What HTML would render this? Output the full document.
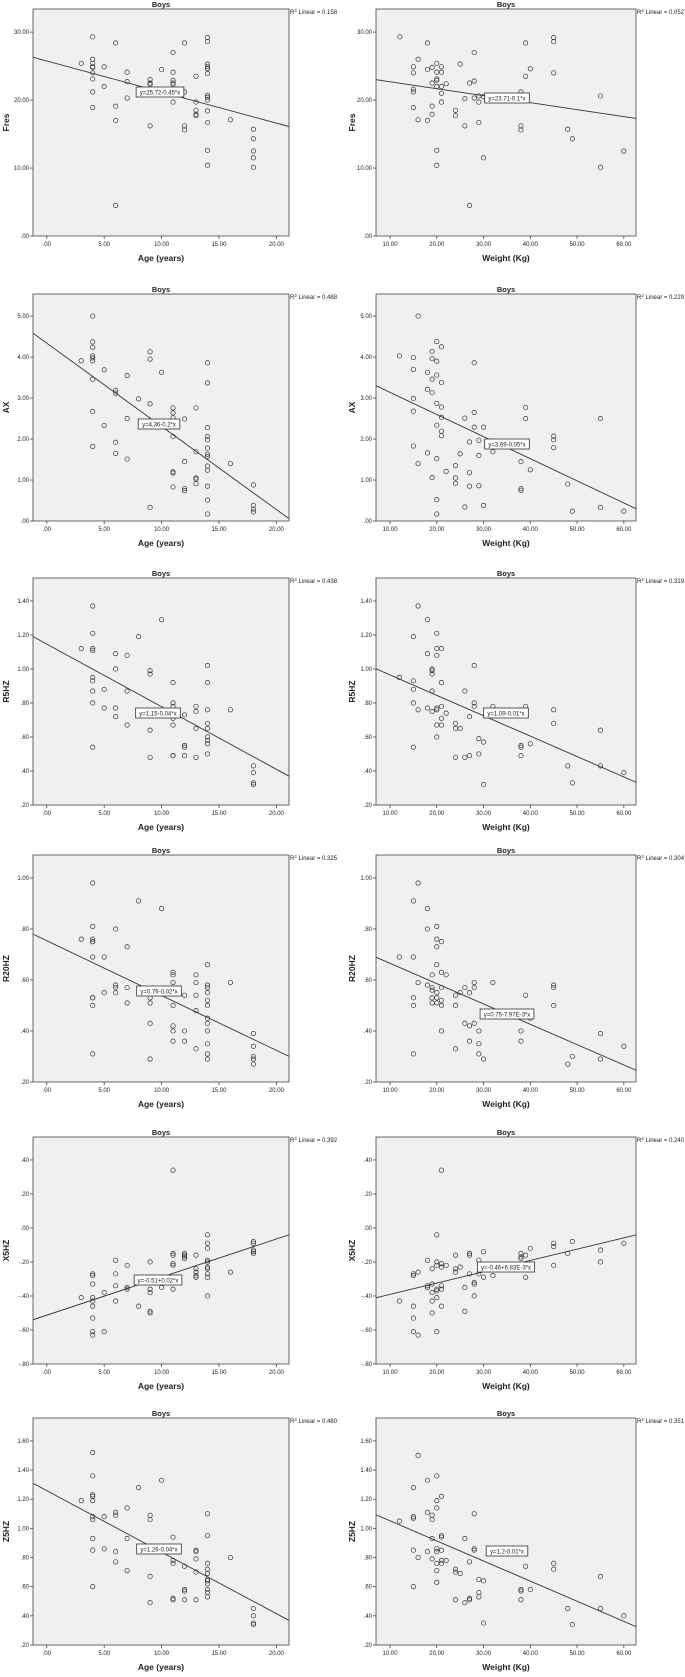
<!DOCTYPE html>
<html><head><meta charset="utf-8"><style>
html,body{margin:0;padding:0;background:#fff;}
svg text{font-family:"Liberation Sans",Arial,sans-serif;fill:#222;}
</style></head><body>
<svg id="fig" width="685" height="1672" viewBox="0 0 685 1672" xmlns="http://www.w3.org/2000/svg"></svg>
<script>
// ---- data ----
const fresAge=[[3,25.4],[4,29.3],[4,26.0],[4,25.4],[4,24.8],[4,24.9],[4,24.0],[4,23.1],[4,21.2],[4,18.9],[5,24.9],[5,22.0],[6,28.4],[6,19.1],[6,17.0],[6,4.5],[7,24.1],[7,22.7],[7,20.3],[8,21.6],[9,23.0],[9,22.5],[9,22.3],[9,16.2],[10,24.5],[11,27.0],[11,24.1],[11,22.9],[11,22.5],[11,22.3],[11,19.7],[12,28.4],[12,16.2],[12,15.6],[12,21.2],[13,23.5],[13,19.7],[13,18.5],[13,17.9],[13,17.7],[14,29.2],[14,28.6],[14,25.3],[14,24.9],[14,24.6],[14,23.9],[14,20.7],[14,20.4],[14,20.0],[14,18.4],[14,16.7],[14,12.6],[14,10.4],[16,17.1],[18,15.7],[18,14.3],[18,12.5],[18,11.5],[18,10.1]];
const fresWt=[[12.1,29.3],[15,24.9],[15,24.0],[15,21.6],[15,21.2],[15,18.9],[16,26.0],[16,17.1],[18,28.4],[18,24.5],[18,17.0],[19,24.8],[19,22.5],[19,19.1],[19,17.9],[20,25.4],[20,24.1],[20,23.1],[20,22.9],[20,22.0],[20,12.6],[20,10.4],[21,24.9],[21,24.1],[21,22.0],[21,21.0],[21,19.7],[22,22.4],[24,18.5],[24,17.7],[25,25.3],[26,20.2],[26,16.2],[27,22.5],[27,4.5],[28,27.0],[28,22.8],[28,20.3],[29,20.6],[29,19.7],[29,16.7],[30,11.5],[30,20.5],[38,21.2],[38,16.2],[38,15.6],[39,28.4],[39,23.5],[40,24.6],[45,29.2],[45,28.6],[45,24.0],[48,15.7],[49,14.3],[55,20.6],[55,10.1],[60,12.5]];
const axAge=[[3,3.91],[4,5.0],[4,4.37],[4,4.24],[4,4.03],[4,3.98],[4,3.91],[4,3.46],[4,2.67],[4,1.82],[5,3.69],[5,2.33],[6,3.19],[6,3.12],[6,1.92],[6,1.65],[7,3.55],[7,2.50],[7,1.51],[8,2.98],[9,4.13],[9,3.95],[9,2.86],[9,0.33],[10,3.63],[11,2.76],[11,2.64],[11,2.52],[11,2.33],[11,2.06],[11,1.20],[11,1.17],[11,0.83],[12,2.49],[12,1.45],[12,0.79],[12,0.74],[13,2.76],[13,1.69],[13,1.05],[13,1.02],[13,0.91],[14,3.86],[14,3.37],[14,2.28],[14,2.06],[14,1.98],[14,1.78],[14,1.63],[14,1.57],[14,1.34],[14,1.24],[14,0.85],[14,0.51],[14,0.17],[16,1.40],[18,0.88],[18,0.38],[18,0.29],[18,0.22]];
const axWt=[[12,4.03],[15,3.99],[15,3.70],[15,2.99],[15,2.68],[15,1.83],[16,5.0],[16,1.40],[18,3.63],[18,3.21],[18,1.66],[19,4.14],[19,3.96],[19,3.46],[19,3.13],[19,1.06],[20,4.38],[20,3.90],[20,3.56],[20,2.87],[20,2.34],[20,1.52],[20,0.52],[20,0.17],[21,4.25],[21,3.38],[21,2.78],[21,2.53],[21,2.19],[21,2.08],[22,1.21],[24,1.35],[24,1.05],[24,0.92],[25,1.64],[26,2.51],[26,0.34],[27,1.93],[27,1.18],[27,0.85],[28,3.86],[28,2.65],[28,2.29],[29,1.97],[29,1.60],[29,0.86],[30,2.29],[30,0.38],[32,1.69],[38,1.45],[38,0.79],[38,0.75],[39,2.77],[39,2.50],[40,1.25],[45,2.07],[45,1.98],[45,1.79],[48,0.90],[49,0.24],[55,2.50],[55,0.33],[60,0.24]];
const r5Age=[[3,1.12],[4,1.37],[4,1.21],[4,1.12],[4,1.11],[4,0.95],[4,0.93],[4,0.87],[4,0.80],[4,0.54],[5,0.88],[5,0.77],[6,1.09],[6,1.00],[6,0.77],[6,0.72],[7,1.08],[7,0.87],[7,0.67],[8,1.19],[9,0.99],[9,0.97],[9,0.64],[9,0.48],[10,1.29],[11,0.92],[11,0.80],[11,0.78],[11,0.71],[11,0.67],[11,0.49],[11,0.49],[12,0.73],[12,0.55],[12,0.54],[12,0.49],[13,0.78],[13,0.75],[13,0.65],[13,0.48],[14,1.02],[14,0.92],[14,0.76],[14,0.68],[14,0.65],[14,0.60],[14,0.58],[14,0.56],[14,0.50],[16,0.76],[18,0.43],[18,0.39],[18,0.33],[18,0.32]];
const r5Wt=[[12,0.95],[15,1.19],[15,0.93],[15,0.88],[15,0.80],[15,0.54],[16,1.37],[16,0.76],[18,1.29],[18,1.09],[18,0.77],[19,1.00],[19,0.99],[19,0.97],[19,0.87],[19,0.75],[20,1.21],[20,1.12],[20,1.08],[20,0.77],[20,0.76],[20,0.67],[20,0.60],[21,1.12],[21,0.92],[21,0.78],[21,0.71],[21,0.67],[22,0.74],[24,0.68],[24,0.65],[24,0.48],[25,0.65],[26,0.87],[26,0.48],[27,0.72],[27,0.49],[28,1.02],[28,0.80],[28,0.78],[29,0.59],[29,0.50],[30,0.57],[30,0.32],[32,0.78],[38,0.55],[38,0.54],[38,0.49],[39,0.78],[40,0.56],[45,0.76],[45,0.68],[48,0.43],[49,0.33],[55,0.64],[55,0.43],[60,0.39]];
const r20Age=[[3,0.76],[4,0.98],[4,0.81],[4,0.76],[4,0.75],[4,0.75],[4,0.69],[4,0.53],[4,0.53],[4,0.50],[4,0.31],[5,0.69],[5,0.55],[6,0.80],[6,0.58],[6,0.57],[6,0.55],[7,0.73],[7,0.57],[7,0.51],[8,0.91],[9,0.53],[9,0.51],[9,0.43],[9,0.29],[10,0.88],[11,0.63],[11,0.62],[11,0.59],[11,0.50],[11,0.42],[11,0.40],[11,0.36],[12,0.54],[12,0.40],[12,0.36],[13,0.62],[13,0.59],[13,0.54],[13,0.48],[13,0.33],[14,0.66],[14,0.58],[14,0.57],[14,0.55],[14,0.52],[14,0.50],[14,0.45],[14,0.43],[14,0.40],[14,0.35],[14,0.31],[14,0.29],[16,0.59],[18,0.39],[18,0.34],[18,0.30],[18,0.29],[18,0.27]];
const r20Wt=[[12,0.69],[15,0.91],[15,0.69],[15,0.53],[15,0.50],[15,0.31],[16,0.98],[16,0.59],[18,0.88],[18,0.80],[18,0.58],[19,0.62],[19,0.57],[19,0.56],[19,0.53],[19,0.51],[20,0.81],[20,0.76],[20,0.73],[20,0.66],[20,0.55],[20,0.53],[20,0.51],[21,0.75],[21,0.63],[21,0.57],[21,0.52],[21,0.50],[21,0.40],[22,0.62],[24,0.54],[24,0.50],[24,0.33],[25,0.55],[26,0.57],[26,0.43],[27,0.55],[27,0.42],[27,0.36],[28,0.59],[28,0.57],[28,0.43],[29,0.40],[29,0.35],[29,0.31],[30,0.29],[32,0.59],[38,0.40],[38,0.36],[39,0.54],[40,0.45],[45,0.58],[45,0.57],[45,0.50],[48,0.27],[49,0.30],[55,0.39],[55,0.29],[60,0.34]];
const x5Age=[[3,-0.41],[4,-0.27],[4,-0.28],[4,-0.33],[4,-0.41],[4,-0.43],[4,-0.46],[4,-0.53],[4,-0.61],[4,-0.63],[5,-0.38],[5,-0.61],[6,-0.19],[6,-0.27],[6,-0.34],[6,-0.43],[7,-0.22],[7,-0.35],[7,-0.36],[8,-0.46],[9,-0.20],[9,-0.36],[9,-0.38],[9,-0.49],[9,-0.50],[10,-0.35],[11,0.34],[11,-0.15],[11,-0.16],[11,-0.21],[11,-0.22],[11,-0.36],[12,-0.15],[12,-0.16],[12,-0.17],[12,-0.18],[13,-0.16],[13,-0.24],[13,-0.26],[13,-0.28],[13,-0.29],[14,-0.04],[14,-0.09],[14,-0.12],[14,-0.19],[14,-0.20],[14,-0.23],[14,-0.24],[14,-0.27],[14,-0.29],[14,-0.40],[16,-0.26],[18,-0.08],[18,-0.09],[18,-0.13],[18,-0.14],[18,-0.15]];
const x5Wt=[[12,-0.43],[15,-0.27],[15,-0.28],[15,-0.46],[15,-0.53],[15,-0.61],[16,-0.26],[16,-0.63],[18,-0.19],[18,-0.34],[18,-0.35],[19,-0.24],[19,-0.33],[19,-0.38],[19,-0.43],[19,-0.50],[20,-0.04],[20,-0.20],[20,-0.22],[20,-0.36],[20,-0.37],[20,-0.41],[20,-0.61],[21,0.34],[21,-0.21],[21,-0.23],[21,-0.34],[21,-0.36],[21,-0.46],[22,-0.22],[24,-0.16],[24,-0.24],[24,-0.26],[25,-0.23],[26,-0.35],[26,-0.49],[27,-0.15],[27,-0.16],[27,-0.27],[28,-0.32],[28,-0.33],[28,-0.40],[29,-0.19],[29,-0.27],[30,-0.14],[30,-0.29],[32,-0.28],[38,-0.15],[38,-0.17],[38,-0.18],[39,-0.16],[39,-0.29],[40,-0.12],[45,-0.09],[45,-0.11],[45,-0.22],[48,-0.15],[49,-0.08],[55,-0.13],[55,-0.20],[60,-0.09]];
const z5Age=[[3,1.19],[4,1.52],[4,1.36],[4,1.23],[4,1.22],[4,1.19],[4,1.08],[4,1.06],[4,0.93],[4,0.85],[4,0.60],[5,1.08],[5,0.86],[6,1.11],[6,1.09],[6,0.84],[6,0.77],[7,1.14],[7,0.93],[7,0.71],[8,1.28],[9,1.09],[9,1.06],[9,0.67],[9,0.49],[10,1.33],[11,0.94],[11,0.78],[11,0.76],[11,0.52],[11,0.51],[12,0.74],[12,0.58],[12,0.57],[12,0.51],[13,0.85],[13,0.84],[13,0.79],[13,0.70],[13,0.51],[14,1.10],[14,0.95],[14,0.76],[14,0.72],[14,0.69],[14,0.65],[14,0.64],[14,0.62],[14,0.58],[14,0.56],[14,0.53],[16,0.80],[18,0.45],[18,0.40],[18,0.35],[18,0.34]];
const z5Wt=[[12,1.05],[15,1.28],[15,1.08],[15,1.07],[15,0.85],[15,0.60],[16,1.50],[16,0.80],[18,1.33],[18,1.11],[18,0.84],[19,1.09],[19,1.06],[19,0.93],[19,0.79],[20,1.36],[20,1.19],[20,1.14],[20,0.86],[20,0.84],[20,0.76],[20,0.71],[20,0.63],[21,1.22],[21,0.95],[21,0.94],[21,0.85],[21,0.78],[21,0.76],[22,0.78],[24,0.72],[24,0.70],[24,0.51],[25,0.69],[26,0.93],[26,0.49],[27,0.77],[27,0.52],[27,0.51],[28,1.10],[28,0.86],[28,0.85],[29,0.65],[29,0.56],[29,0.53],[30,0.64],[30,0.35],[38,0.58],[38,0.57],[38,0.51],[39,0.74],[40,0.58],[45,0.76],[45,0.72],[48,0.45],[49,0.34],[55,0.67],[55,0.45],[60,0.40]];
const intercepts=[25.75,23.72,4.34,3.68,1.146,1.085,0.754,0.745,-0.513,-0.457,1.259,1.19];
const slopes=[-0.457,-0.1025,-0.203,-0.054,-0.0368,-0.012,-0.0215,-0.00797,0.0224,0.00665,-0.0422,-0.0138];
const eqLabels=["y=25.72-0.45*x","y=23.71-0.1*x","y=4.36-0.2*x","y=3.69-0.05*x","y=1.15-0.04*x","y=1.09-0.01*x","y=0.76-0.02*x","y=0.75-7.97E-3*x","y=-0.51+0.02*x","y=-0.46+6.83E-3*x","y=1.26-0.04*x","y=1.2-0.01*x"];
const r2Labels=["0.158","0.052","0.488","0.229","0.438","0.319","0.325","0.304","0.392","0.240","0.480","0.351"];
const yNames=["Fres","AX","R5HZ","R20HZ","X5HZ","Z5HZ"];
const yTicksRows=[[0,10,20,30],[0,1,2,3,4,5],[0.2,0.4,0.6,0.8,1.0,1.2,1.4],[0.2,0.4,0.6,0.8,1.0],[-0.8,-0.6,-0.4,-0.2,0,0.2,0.4],[0.2,0.4,0.6,0.8,1.0,1.2,1.4,1.6]];
const xTicksAge=[0,5,10,15,20];
const xTicksWt=[10,20,30,40,50,60];
const seriesList=[fresAge,fresWt,axAge,axWt,r5Age,r5Wt,r20Age,r20Wt,x5Age,x5Wt,z5Age,z5Wt];

// ---- layout (styles, not data) ----
const rowTops=[9,294,578,855,1137,1418];
const boxH=227;
const yDomains=[[0,33.4],[0,5.54],[0.2,1.535],[0.2,1.09],[-0.8,0.535],[0.2,1.757]];
const cols=[{l:33,r:289,dom:[-1.2,21.1],title:"Age (years)",ytx:6},{l:376,r:636,dom:[7.0,62.6],title:"Weight (Kg)",ytx:352}];
const eqPos=[[160,78],[507,84],[159,125],[507,145],[158,130],[506,130],[159,131],[507,154],[158,138],[506,125],[159,126],[507,128]];

const NS="http://www.w3.org/2000/svg";
const svg=document.getElementById('fig');
function mk(tag,attrs,parent){const e=document.createElementNS(NS,tag);for(const k in attrs)e.setAttribute(k,attrs[k]);(parent||svg).appendChild(e);return e;}
function fmt(v){let s=Math.abs(v).toFixed(2);if(Math.abs(v)<1)s=s.replace(/^0/,'');return (v<0?'-':'')+s;}
const defs=mk('defs',{});

for(let i=0;i<12;i++){
  const row=Math.floor(i/2), c=cols[i%2];
  const top=rowTops[row], bot=top+boxH;
  const yd=yDomains[row];
  const sx=v=>c.l+(v-c.dom[0])/(c.dom[1]-c.dom[0])*(c.r-c.l);
  const sy=v=>bot-(v-yd[0])/(yd[1]-yd[0])*boxH;
  const g=mk('g',{});
  
  
  const cp=mk('clipPath',{id:'cp'+i},defs);
  mk('rect',{x:c.l,y:top,width:c.r-c.l,height:boxH},cp);
  const box=mk('rect',{x:c.l,y:top,width:c.r-c.l,height:boxH,fill:'#f0f0f0',stroke:'#444','stroke-width':0.8},g);
  
  
  const t=mk('text',{x:(c.l+c.r)/2,y:top-2,'text-anchor':'middle','font-size':7.5,'font-weight':'bold'},g);
  t.textContent='Boys';
  
  
  const r2=mk('text',{x:c.r+1,y:top+5,'font-size':6},g);
  r2.innerHTML='R<tspan font-size="4.5" dy="-2">2</tspan><tspan dy="2"> Linear = '+r2Labels[i]+'</tspan>';
  
  
  yTicksRows[row].forEach(v=>{
    const y=sy(v);
    mk('line',{x1:c.l-3,x2:c.l,y1:y,y2:y,stroke:'#444','stroke-width':0.8},g);
    const tl=mk('text',{x:c.l-4,y:y+2,'text-anchor':'end','font-size':6},g);
    tl.textContent=fmt(v);
    
    
  });
  (i%2?xTicksWt:xTicksAge).forEach(v=>{
    const x=sx(v);
    mk('line',{x1:x,x2:x,y1:bot,y2:bot+3,stroke:'#444','stroke-width':0.8},g);
    const tl=mk('text',{x:x,y:bot+10,'text-anchor':'middle','font-size':6},g);
    tl.textContent=fmt(v);
    
    
  });
  const xt=mk('text',{x:(c.l+c.r)/2,y:bot+25,'text-anchor':'middle','font-size':8.5,'font-weight':'bold'},g);
  xt.textContent=c.title;
  
  
  const ym=(top+bot)/2;
  const yt=mk('text',{x:c.ytx+3,y:ym,'text-anchor':'middle','font-size':8.5,'font-weight':'bold',transform:'rotate(-90 '+(c.ytx+3)+' '+ym+')'},g);
  yt.textContent=yNames[row];
  
  
  seriesList[i].forEach(p=>{
    const pt=mk('circle',{cx:sx(p[0]),cy:sy(p[1]),r:2.2,fill:'none',stroke:'#333','stroke-width':0.7},g);
    
    
  });
  const x0=c.dom[0],x1=c.dom[1];
  const ln=mk('line',{x1:sx(x0),y1:sy(intercepts[i]+slopes[i]*x0),x2:sx(x1),y2:sy(intercepts[i]+slopes[i]*x1),stroke:'#333','stroke-width':0.9,'clip-path':'url(#cp'+i+')'},g);
  
  
  const ep=eqPos[i], txt=eqLabels[i], w=txt.length*3.05+5;
  const er=mk('rect',{x:ep[0]-w/2,y:top+ep[1],width:w,height:10,fill:'#fff',stroke:'#333','stroke-width':0.8},g);
  
  
  const et=mk('text',{x:ep[0],y:top+ep[1]+7.5,'text-anchor':'middle','font-size':6},g);
  et.textContent=txt;
  
  
}
</script>
</body></html>
